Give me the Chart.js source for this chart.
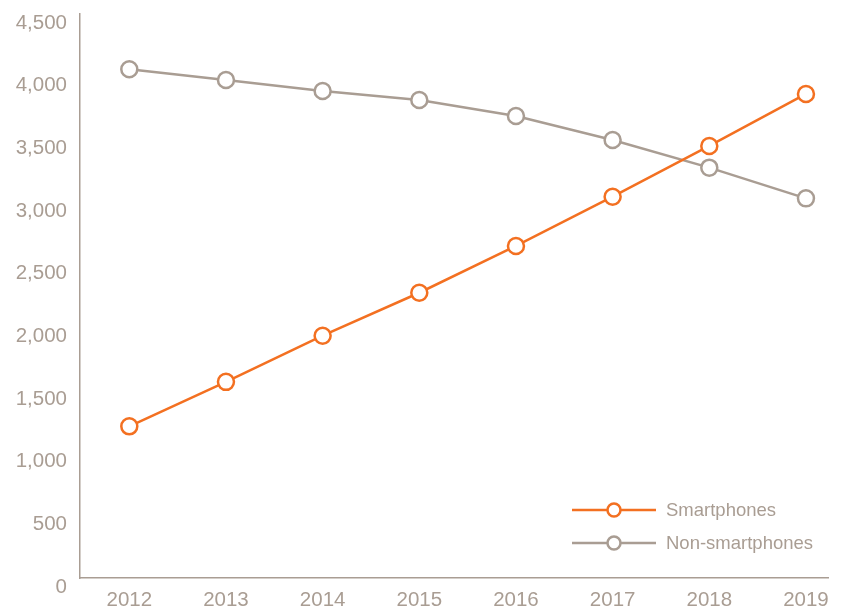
<!DOCTYPE html>
<html>
<head>
<meta charset="utf-8">
<script src="https://cdn.jsdelivr.net/npm/chart.js@4/dist/chart.umd.min.js"></script>
<style>
  html, body { margin: 0; padding: 0; background: #ffffff; }
  #wrap { width: 842px; height: 609px; position: relative; }
</style>
</head>
<body>
<div id="wrap"><canvas id="c" width="842" height="609"></canvas></div>
<script>
// ---- data ----
const years = [2012, 2013, 2014, 2015, 2016, 2017, 2018, 2019];
const smartphones = [1210, 1565, 1933, 2276, 2649, 3042, 3447, 3862];
const nonSmartphones = [4059, 3973, 3886, 3814, 3686, 3495, 3274, 3029];
const yTicks = [0, 500, 1000, 1500, 2000, 2500, 3000, 3500, 4000, 4500];
const seriesNames = ['Smartphones', 'Non-smartphones'];

const ORANGE = '#f37021';
const GREY = '#a99d93';
const TEXT = '#a99d93';
const FONT = '"Liberation Sans", Arial, sans-serif';

const legendPlugin = {
  id: 'insideLegend',
  afterDraw(chart) {
    const ctx = chart.ctx;
    const a = chart.chartArea;
    const lineStart = a.right - 256, lineLen = 84, textX = a.right - 162;
    const rows = [a.bottom - 68, a.bottom - 35];
    ctx.save();
    chart.data.datasets.forEach((ds, i) => {
      const y = rows[i];
      ctx.strokeStyle = ds.borderColor;
      ctx.lineWidth = 2.5;
      ctx.beginPath();
      ctx.moveTo(lineStart, y);
      ctx.lineTo(lineStart + lineLen, y);
      ctx.stroke();
      ctx.beginPath();
      ctx.arc(lineStart + lineLen / 2, y, 6.5, 0, Math.PI * 2);
      ctx.fillStyle = '#ffffff';
      ctx.fill();
      ctx.stroke();
      ctx.fillStyle = TEXT;
      ctx.font = '18.5px ' + FONT;
      ctx.textBaseline = 'middle';
      ctx.textAlign = 'left';
      ctx.fillText(ds.label, textX, y + 1);
    });
    ctx.restore();
  }
};

const mk = (arr) => years.map((yr, i) => ({ x: yr, y: arr[i] }));

new Chart(document.getElementById('c'), {
  type: 'line',
  data: {
    datasets: [
      {
        label: seriesNames[0],
        data: mk(smartphones),
        borderColor: ORANGE,
        backgroundColor: '#ffffff',
        pointBackgroundColor: '#ffffff',
        pointBorderColor: ORANGE,
        borderWidth: 2.5,
        pointRadius: 8,
        pointBorderWidth: 2.5,
        tension: 0
      },
      {
        label: seriesNames[1],
        data: mk(nonSmartphones),
        borderColor: GREY,
        backgroundColor: '#ffffff',
        pointBackgroundColor: '#ffffff',
        pointBorderColor: GREY,
        borderWidth: 2.5,
        pointRadius: 8,
        pointBorderWidth: 2.5,
        tension: 0
      }
    ]
  },
  options: {
    responsive: false,
    animation: false,
    layout: { padding: { top: 14, right: 14, left: 0, bottom: 0 } },
    plugins: {
      legend: { display: false },
      tooltip: { enabled: false }
    },
    scales: {
      x: {
        type: 'linear',
        min: 2011.49,
        max: 2019.228,
        afterBuildTicks: (s) => { s.ticks = years.map(v => ({ value: v })); },
        afterFit: (s) => { s.height = 31; s.paddingLeft = 0; s.paddingRight = 0; },
        grid: { display: false, drawTicks: false },
        border: { display: true, color: GREY, width: 1.5 },
        ticks: {
          color: TEXT,
          font: { family: FONT, size: 20.5 },
          padding: 10,
          maxRotation: 0,
          autoSkip: false,
          callback: (v) => String(v)
        }
      },
      y: {
        min: 0,
        max: 4500,
        afterBuildTicks: (s) => { s.ticks = yTicks.map(v => ({ value: v })); },
        afterFit: (s) => { s.width = 80; s.paddingTop = 0; s.paddingBottom = 0; },
        grid: { display: false, drawTicks: false },
        border: { display: true, color: GREY, width: 1.5 },
        ticks: {
          color: TEXT,
          font: { family: FONT, size: 20.5 },
          padding: 13,
          labelOffset: 9,
          callback: (v) => v.toLocaleString('en-US')
        }
      }
    }
  },
  plugins: [legendPlugin]
});
</script>
</body>
</html>
